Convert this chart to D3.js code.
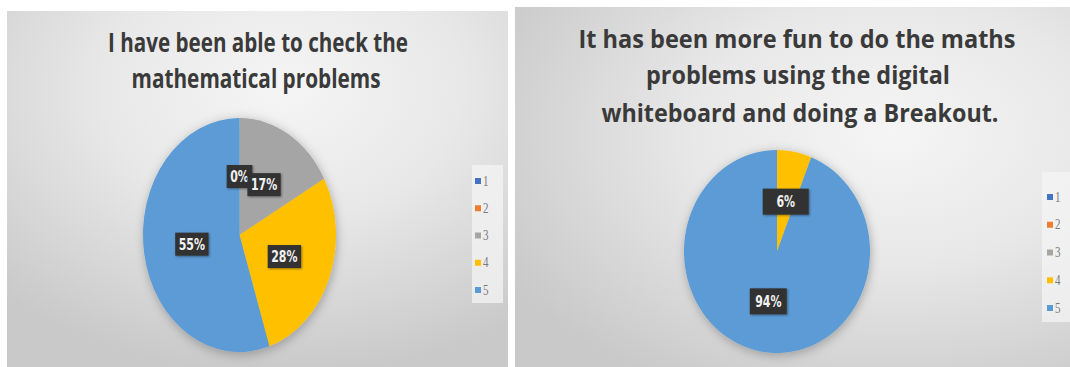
<!DOCTYPE html>
<html>
<head>
<meta charset="utf-8">
<script src="https://cdn.jsdelivr.net/npm/d3@7"></script>
<style>
  html, body { margin: 0; padding: 0; background: #fff; }
  svg { display: block; }
</style>
</head>
<body>
<div id="chart"></div>
<script>
// data
const categories = ['1', '2', '3', '4', '5'];
const sliceColors = ['#4472c4', '#ed7d31', '#a5a5a5', '#ffc000', '#5b9bd5'];
const checkValues = [0, 0, 17, 28, 55];
const funValues = [0, 0, 0, 6, 94];
const checkLabels = [false, true, true, true, true];
const funLabels = [false, false, false, true, true];
const checkTitle = ['I have been able to check the', 'mathematical problems'];
const funTitle = ['It has been more fun to do the maths', 'problems using the digital', 'whiteboard and doing a Breakout.'];

const W = 1070, H = 367;

const svg = d3.select('#chart').append('svg')
    .attr('width', W)
    .attr('height', H);

const defs = svg.append('defs');

function bgGradient(id, cx, cy) {
    const g = defs.append('radialGradient')
        .attr('id', id)
        .attr('cx', cx).attr('cy', cy).attr('r', '80%');
    g.append('stop').attr('offset', '0%').attr('stop-color', '#f5f5f5');
    g.append('stop').attr('offset', '45%').attr('stop-color', '#e8e8e8');
    g.append('stop').attr('offset', '100%').attr('stop-color', '#c9c9c9');
}
bgGradient('bgLeft', '55%', '22%');
bgGradient('bgRight', '68%', '35%');

const shadow = defs.append('filter').attr('id', 'pieShadow')
    .attr('x', '-20%').attr('y', '-20%').attr('width', '140%').attr('height', '140%');
shadow.append('feDropShadow')
    .attr('dx', 1).attr('dy', 2).attr('stdDeviation', 5)
    .attr('flood-color', '#000').attr('flood-opacity', 0.28);

const boxShadow = defs.append('filter').attr('id', 'boxShadow')
    .attr('x', '-30%').attr('y', '-30%').attr('width', '160%').attr('height', '160%');
boxShadow.append('feDropShadow')
    .attr('dx', 1).attr('dy', 1).attr('stdDeviation', 1)
    .attr('flood-color', '#000').attr('flood-opacity', 0.4);

function drawPanel(cfg) {
    const g = svg.append('g');

    g.append('rect')
        .attr('x', cfg.panel[0]).attr('y', cfg.panel[1])
        .attr('width', cfg.panel[2]).attr('height', cfg.panel[3])
        .attr('fill', `url(#${cfg.bg})`);

    // title
    cfg.title.forEach((line, i) => {
        g.append('text')
            .attr('transform', `translate(${cfg.titleX[i]},${cfg.titleY[i]}) scale(1,${cfg.titleSy})`)
            .attr('text-anchor', 'middle')
            .attr('font-family', 'Open Sans, sans-serif')
            .attr('font-weight', 700)
            .attr('font-size', 22)
            .attr('fill', '#3a3a3a')
            .attr('textLength', cfg.titleW[i])
            .attr('lengthAdjust', 'spacingAndGlyphs')
            .text(line);
    });

    // pie (circle stretched into an ellipse)
    const sy = cfg.ry / cfg.rx;
    const pie = d3.pie().sort(null).value(d => d)(cfg.values);
    const arc = d3.arc().innerRadius(0).outerRadius(cfg.rx);

    const pg = g.append('g')
        .attr('transform', `translate(${cfg.cx},${cfg.cy}) scale(1,${sy})`)
        .attr('filter', 'url(#pieShadow)');

    pg.selectAll('path')
        .data(pie)
        .enter()
        .append('path')
        .attr('d', arc)
        .attr('fill', (d, i) => sliceColors[i]);

    // data labels
    const total = d3.sum(cfg.values);
    pie.forEach((d, i) => {
        if (!cfg.show[i]) return;
        const c = arc.centroid(d);
        const lg = g.append('g')
            .attr('transform', `translate(${cfg.cx + c[0]},${cfg.cy + c[1] * sy})`);
        const rect = lg.append('rect').attr('fill', '#333').attr('filter', 'url(#boxShadow)');
        const t = lg.append('text')
            .attr('text-anchor', 'middle')
            .attr('dy', '0.36em')
            .attr('transform', 'scale(1,1.4)')
            .attr('font-family', 'DejaVu Sans, sans-serif')
            .attr('font-weight', 700)
            .attr('font-size', 11)
            .attr('fill', '#f2f2f2')
            .text(Math.round(cfg.values[i] / total * 100) + '%');
        const bw = Math.max(t.node().getBBox().width + cfg.boxPad, cfg.boxMin[i]);
        rect.attr('x', -bw / 2).attr('y', -cfg.boxH / 2)
            .attr('width', bw).attr('height', cfg.boxH);
    });

    // legend
    g.append('rect')
        .attr('x', cfg.legend[0]).attr('y', cfg.legend[1])
        .attr('width', cfg.legend[2]).attr('height', cfg.legend[3])
        .attr('fill', '#f4f4f4').attr('opacity', 0.75);

    const ly = d3.scalePoint().domain(categories).range(cfg.legendY);
    categories.forEach((cat, i) => {
        g.append('rect')
            .attr('x', cfg.legendX).attr('y', ly(cat) - 3)
            .attr('width', 6).attr('height', 6)
            .attr('fill', sliceColors[i]);
        g.append('text')
            .attr('transform', `translate(${cfg.legendX + 8},${ly(cat) + 4.5}) scale(1,1.35)`)
            .attr('font-family', 'Liberation Serif, serif')
            .attr('font-size', 11)
            .attr('fill', '#7a7a7a')
            .text(cat);
    });
}

drawPanel({
    panel: [7, 11, 501, 356], bg: 'bgLeft',
    title: checkTitle, titleX: [258, 256], titleY: [52, 88], titleW: [300, 249], titleSy: 1.22,
    values: checkValues, show: checkLabels,
    cx: 239.5, cy: 235, rx: 96.5, ry: 117,
    boxPad: 7, boxH: 23, boxMin: [0, 0, 0, 0, 0],
    legend: [472, 165, 31, 138], legendX: 475, legendY: [181, 290]
});

drawPanel({
    panel: [515, 7, 555, 360], bg: 'bgRight',
    title: funTitle, titleX: [797, 798, 800], titleY: [48, 84, 122], titleW: [437, 304, 397], titleSy: 1.1,
    values: funValues, show: funLabels,
    cx: 777, cy: 251.5, rx: 93, ry: 101.5,
    boxPad: 10, boxH: 26, boxMin: [0, 0, 0, 46, 37],
    legend: [1042, 172, 28, 150], legendX: 1047, legendY: [197, 308]
});
</script>
</body>
</html>
